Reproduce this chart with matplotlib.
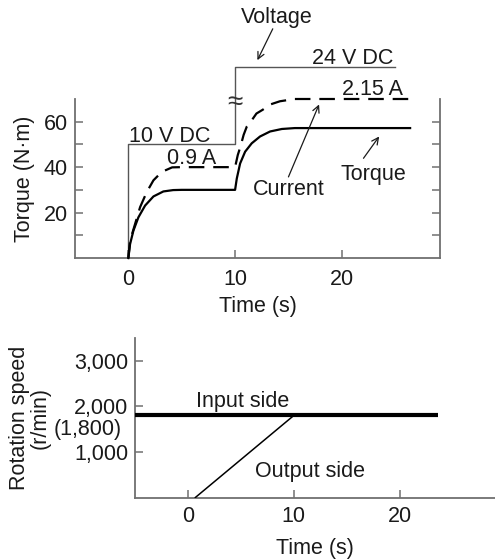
import matplotlib
matplotlib.use("Agg")
import matplotlib.pyplot as plt
import matplotlib.transforms as mtransforms

plt.rcParams["font.family"] = ["Liberation Sans", "DejaVu Sans"]
plt.rcParams["font.size"] = 15.5

# --- Torque / current response -------------------------------------------
torque_t = [0, 0.16, 0.47, 0.94, 1.57, 2.35, 3.28, 4.2, 5.0, 10.0,
            10.16, 10.47, 10.94, 11.56, 12.34, 13.28, 14.38, 15.6, 26.4]
torque_nm = [0, 6.1, 12.0, 17.9, 23.1, 27.1, 29.3, 29.9, 30, 30,
             35, 41.6, 46.8, 50.5, 53.5, 55.7, 56.8, 57.2, 57.2]

current_t = [0, 0.16, 0.63, 1.1, 1.72, 2.35, 3.13, 4.1, 5.0, 10.0,
             10.25, 10.5, 10.8, 11.1, 11.6, 12.0, 12.6, 13.3, 14.2, 15.6, 26.4]
current_level = [0, 7.6, 15, 22.4, 29, 34.2, 37.9, 39.9, 40, 40,
                 45.3, 49, 54.2, 57.9, 60.9, 63.6, 65.3, 67.6, 69, 70, 70]

voltage_t = [0, 0, 10, 10, 25]
voltage_level = [0, 50, 50, 84, 84]

torque_ticks = [20, 40, 60]
torque_minor = [10, 30, 50]
time_ticks = [0, 10, 20]

# --- Rotation speed ------------------------------------------------------
input_t = [-5, 23.6]
input_speed = [1800, 1800]
output_t = [0.7, 10]
output_speed = [0, 1800]
speed_ticks = [1000, 2000, 3000]
speed_labels = ["1,000", "2,000", "3,000"]

SPINE = "#707070"
TEXT = "#1a1a1a"
FS = 15.5

fig = plt.figure(figsize=(4.95, 5.59), dpi=100)

# ---------------- top panel ----------------
ax = fig.add_axes([75 / 495, 1 - 258 / 559, 365 / 495, 159 / 559])
ax.set_xlim(-5, 29.2)
ax.set_ylim(0, 70)
ax.spines["top"].set_visible(False)
for s in ("left", "right", "bottom"):
    ax.spines[s].set_color(SPINE)
    ax.spines[s].set_linewidth(1.3)
ax.set_xticks(time_ticks)
ax.set_yticks(torque_ticks)
ax.set_yticks(torque_minor, minor=True)
ax.tick_params(axis="both", which="both", direction="in", length=6,
               width=1.1, color=SPINE, labelcolor=TEXT, labelsize=FS,
               right=True)
ax.tick_params(axis="y", pad=5)
ax.tick_params(axis="x", pad=8)

ax.plot(voltage_t, voltage_level, color="#555555", lw=1.0,
        clip_on=False, zorder=2)
ax.plot(torque_t, torque_nm, color="black", lw=1.6, clip_on=False, zorder=3)
ax.plot(current_t, current_level, color="black", lw=1.6, clip_on=False,
        dashes=(7, 4), zorder=3)

ax.text(10, 68.3, "≈", ha="center", va="center", fontsize=20,
        color="#333333", clip_on=False)

ax.text(3.83, 51.2, "10 V DC", ha="center", va="baseline", color=TEXT)
ax.text(5.94, 41.3, "0.9 A", ha="center", va="baseline", color=TEXT)
ax.text(21.03, 85.3, "24 V DC", ha="center", va="baseline", color=TEXT,
        clip_on=False)
ax.text(22.9, 71.7, "2.15 A", ha="center", va="baseline", color=TEXT,
        clip_on=False)
ax.text(13.94, 103.6, "Voltage", ha="center", va="baseline", color=TEXT,
        clip_on=False)
ax.text(15.04, 27.6, "Current", ha="center", va="baseline", color=TEXT)
ax.text(22.96, 34.2, "Torque", ha="center", va="baseline", color=TEXT)

arrow = dict(arrowstyle="->", color=TEXT, lw=0.9, mutation_scale=12,
             shrinkA=0, shrinkB=0)
ax.annotate("", xy=(12.09, 87.1), xytext=(13.53, 100.9), arrowprops=arrow,
            annotation_clip=False)
ax.annotate("", xy=(17.87, 67.6), xytext=(15.0, 35.7), arrowprops=arrow)
ax.annotate("", xy=(23.5, 53.5), xytext=(22.03, 43.9), arrowprops=arrow)

ax.set_xlabel("Time (s)", color=TEXT, fontsize=FS, labelpad=4)
ax.set_ylabel("Torque (N·m)", color=TEXT, fontsize=FS, va="center")
ax.yaxis.set_label_coords(-0.1397, 0.5)

# ---------------- bottom panel ----------------
ax2 = fig.add_axes([135 / 495, 1 - 497.5 / 559, 360 / 495, 159.5 / 559])
ax2.set_xlim(-5, 29)
ax2.set_ylim(0, 3500)
ax2.spines["top"].set_visible(False)
ax2.spines["right"].set_visible(False)
for s in ("left", "bottom"):
    ax2.spines[s].set_color(SPINE)
    ax2.spines[s].set_linewidth(1.3)
ax2.set_xticks(time_ticks)
ax2.set_yticks(speed_ticks)
ax2.set_yticklabels(speed_labels)
ax2.tick_params(axis="both", direction="in", length=6, width=1.1,
                color=SPINE, labelcolor=TEXT, labelsize=FS)
ax2.tick_params(axis="y", pad=5)
ax2.tick_params(axis="x", pad=6)

ax2.plot(input_t, input_speed, color="black", lw=3.0, solid_capstyle="butt",
         clip_on=False, zorder=3)
ax2.plot(output_t, output_speed, color="black", lw=1.1, zorder=3)

ax2.annotate("(1,800)", xy=(0, input_speed[0]),
             xycoords=mtransforms.blended_transform_factory(ax2.transAxes,
                                                            ax2.transData),
             xytext=(-9.6, -10.3), textcoords="offset points",
             ha="right", va="center", color=TEXT, fontsize=FS)

ax2.text(5.13, 1985, "Input side", ha="center", va="baseline", color=TEXT)
ax2.text(11.53, 454, "Output side", ha="center", va="baseline", color=TEXT)

ax2.set_xlabel("Time (s)", color=TEXT, fontsize=FS, labelpad=8)
ax2.set_ylabel("Rotation speed\n(r/min)", color=TEXT, fontsize=FS,
               va="center", linespacing=1.0)
ax2.yaxis.set_label_coords(-0.293, 0.5)

fig.savefig("out.png", dpi=100)
